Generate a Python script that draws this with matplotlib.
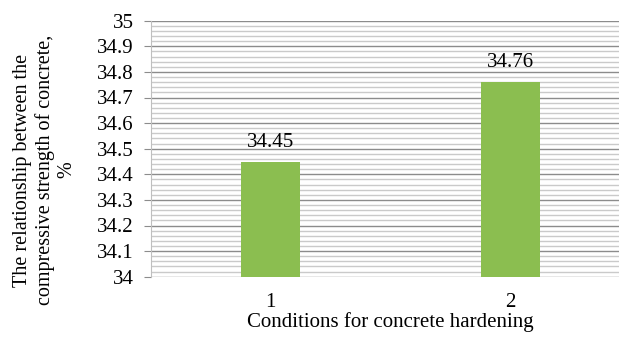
import numpy as np
import matplotlib.pyplot as plt
from matplotlib.ticker import MultipleLocator

# data
categories = ["1", "2"]
values = [34.45, 34.76]
value_labels = ["34.45", "34.76"]
yticks = [34, 34.1, 34.2, 34.3, 34.4, 34.5, 34.6, 34.7, 34.8, 34.9, 35]
ytick_labels = ["34", "34.1", "34.2", "34.3", "34.4", "34.5", "34.6", "34.7", "34.8", "34.9", "35"]

plt.rcParams["font.family"] = "Liberation Serif"
plt.rcParams["font.size"] = 15

fig = plt.figure(figsize=(6.19, 3.40), dpi=100)
# axes runs past the right edge like in the cropped original
ax = fig.add_axes([150.5 / 619, 1 - 276.7 / 340, (630 - 150.5) / 619, (276.7 - 20.7) / 340])

x = np.arange(len(categories))
ax.bar(x, values, width=0.246, bottom=0, color="#8BBE50", zorder=3)
ax.set_xlim(-0.5, 1.5)
ax.set_ylim(34, 35)

ax.set_yticks(yticks)
ax.set_yticklabels(ytick_labels)
ax.yaxis.set_minor_locator(MultipleLocator(0.02))
ax.grid(axis="y", which="major", color="#8C8C8C", linewidth=1.0, zorder=1)
ax.grid(axis="y", which="minor", color="#CACACA", linewidth=1.0, zorder=0)

ax.set_xticks(x)
ax.set_xticklabels(categories)
ax.tick_params(axis="x", length=0, pad=12)
ax.tick_params(axis="y", which="major", length=5, color="#8C8C8C", pad=7)
ax.tick_params(axis="y", which="minor", length=0)

for s in ["top", "right", "bottom"]:
    ax.spines[s].set_visible(False)
ax.spines["left"].set_color("#BFBFBF")

for xi, v, lab in zip(x, values, value_labels):
    ax.annotate(lab, (xi, v), xytext=(0, 7), textcoords="offset points",
                ha="center", va="bottom")

ax.set_xlabel("Conditions for concrete hardening", labelpad=0)
fig.text(45 / 619, 0.5, "The relationship between the\ncompressive strength of concrete,\n%",
         rotation=90, ha="center", va="center", linespacing=1.2, fontsize=14.5)

fig.savefig("out.png", dpi=100)
